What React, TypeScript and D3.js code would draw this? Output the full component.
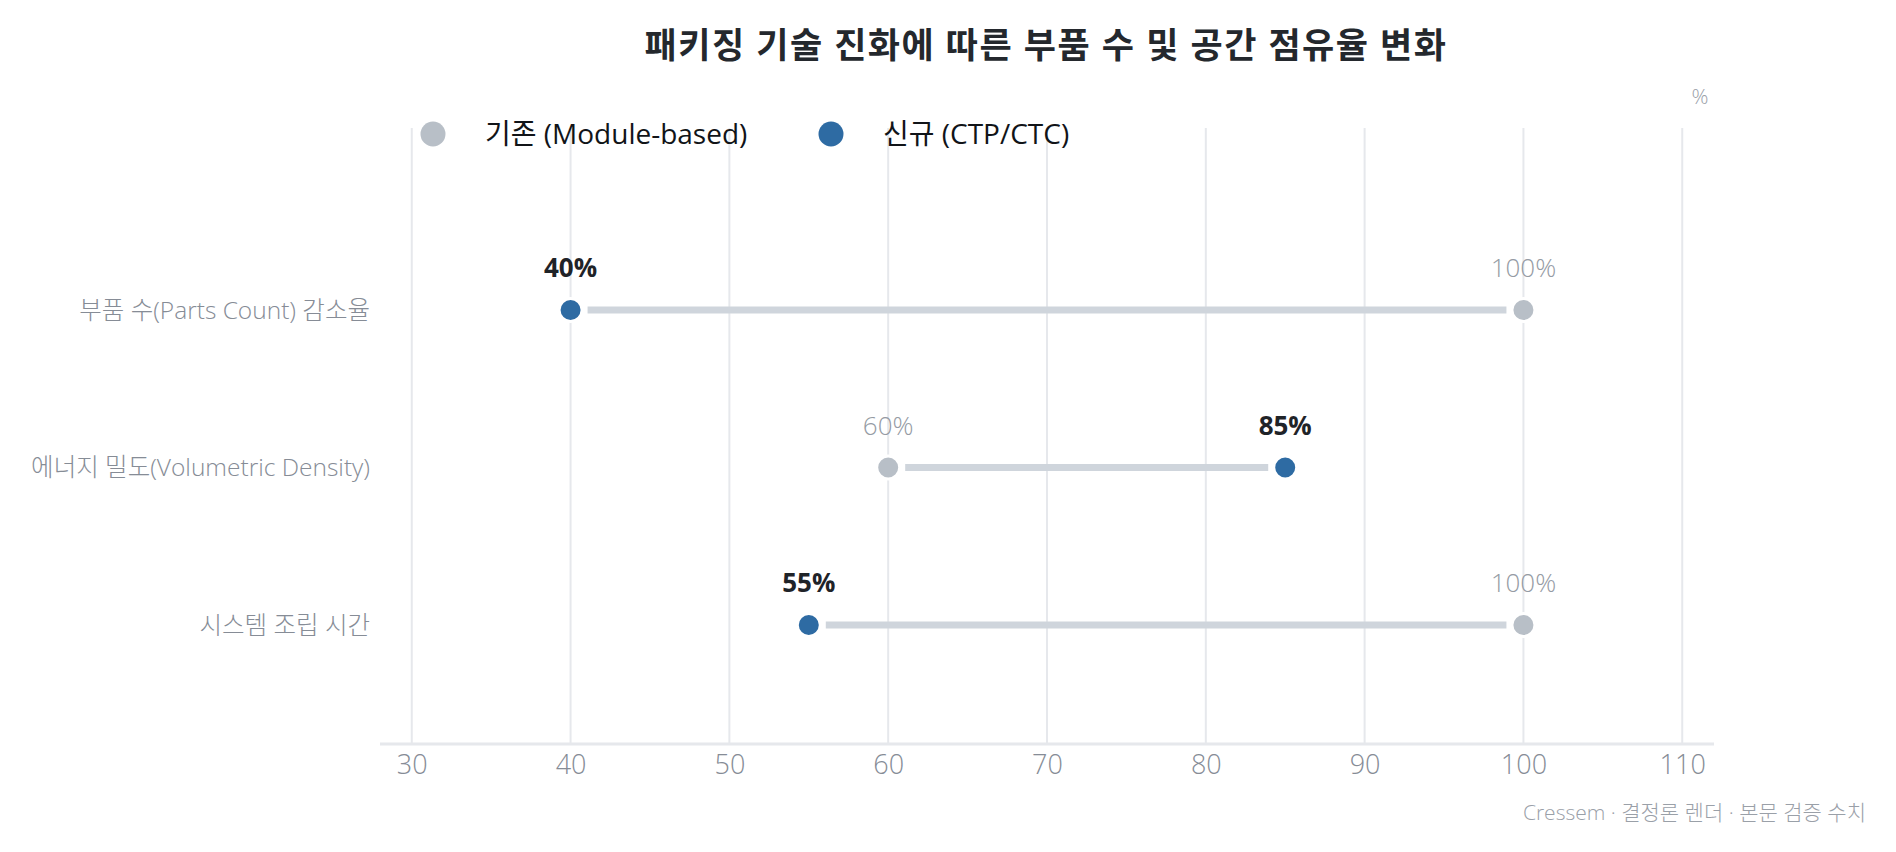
import React, { useEffect, useRef } from 'react';
import * as d3 from 'd3';

const categories = [
  '부품 수(Parts Count) 감소율',
  '에너지 밀도(Volumetric Density)',
  '시스템 조립 시간'
];
const legacyValues = [100, 60, 100];
const newValues = [40, 85, 55];
const xTicks = [30, 40, 50, 60, 70, 80, 90, 100, 110];
const seriesNames = ['기존 (Module-based)', '신규 (CTP/CTC)'];

const FONT = '"Open Sans", "Noto Sans CJK KR", sans-serif';
const GREY_DOT = '#b8bfc7';
const BLUE_DOT = '#2e6ba3';

export default function App() {
  const svgRef = useRef<SVGSVGElement>(null);

  useEffect(() => {
    document.body.style.margin = '0';
    if (!svgRef.current) return;

    const width = 1896;
    const height = 852;

    const svg = d3.select(svgRef.current);
    svg.selectAll('*').remove();
    svg.attr('width', width).attr('height', height).style('font-family', FONT);

    const x = d3.scaleLinear().domain([28, 112]).range([380, 1714]);
    const y = d3.scalePoint<string>().domain(categories).range([310, 625]);
    const gridTop = 128;
    const axisY = 744;

    // gridlines
    svg.append('g')
      .selectAll('line')
      .data(xTicks)
      .enter()
      .append('line')
      .attr('x1', d => x(d))
      .attr('x2', d => x(d))
      .attr('y1', gridTop)
      .attr('y2', axisY)
      .attr('stroke', '#e6e8ec')
      .attr('stroke-width', 2);

    // bottom axis
    const axis = svg.append('g')
      .attr('transform', `translate(0,${axisY})`)
      .call(d3.axisBottom(x).tickValues(xTicks).tickSize(0).tickPadding(11));
    axis.select('.domain')
      .attr('d', `M${x.range()[0]},0H${x.range()[1]}`)
      .attr('stroke', '#e6e8ec')
      .attr('stroke-width', 3);
    axis.selectAll('text')
      .attr('fill', '#868c96')
      .style('font-size', '27px')
      .style('font-weight', 300)
      .style('font-family', FONT);

    // title
    svg.append('text')
      .attr('x', 1046)
      .attr('y', 58)
      .attr('text-anchor', 'middle')
      .attr('fill', '#24282d')
      .style('font-size', '35px')
      .style('font-weight', 700)
      .style('letter-spacing', '1.5px')
      .text('패키징 기술 진화에 따른 부품 수 및 공간 점유율 변화');

    // unit
    svg.append('text')
      .attr('x', 1700)
      .attr('y', 104)
      .attr('text-anchor', 'middle')
      .attr('fill', '#9aa0a8')
      .style('font-size', '21px')
      .style('font-weight', 300)
      .text('%');

    // legend
    const legendX = [433, 831];
    const legendColors = [GREY_DOT, BLUE_DOT];
    seriesNames.forEach((name, i) => {
      svg.append('circle')
        .attr('cx', legendX[i])
        .attr('cy', 134)
        .attr('r', 12.5)
        .attr('fill', legendColors[i]);
      svg.append('text')
        .attr('x', legendX[i] + 52)
        .attr('y', 134)
        .attr('dy', '0.35em')
        .attr('fill', '#111418')
        .style('font-size', '28px')
        .text(name);
    });

    // category labels
    svg.append('g')
      .selectAll('text')
      .data(categories)
      .enter()
      .append('text')
      .attr('x', 370)
      .attr('y', d => y(d)!)
      .attr('dy', '0.35em')
      .attr('text-anchor', 'end')
      .attr('fill', '#868c96')
      .style('font-size', '24.5px')
      .style('font-weight', 300)
      .text(d => d);

    // connectors
    const inset = 17;
    svg.append('g')
      .selectAll('line')
      .data(categories)
      .enter()
      .append('line')
      .attr('x1', (_, i) => x(Math.min(legacyValues[i], newValues[i])) + inset)
      .attr('x2', (_, i) => x(Math.max(legacyValues[i], newValues[i])) - inset)
      .attr('y1', d => y(d)!)
      .attr('y2', d => y(d)!)
      .attr('stroke', '#cfd5dc')
      .attr('stroke-width', 7);

    // dots + value labels
    const series = [
      { values: legacyValues, color: GREY_DOT, labelColor: '#959ba4', weight: 300 },
      { values: newValues, color: BLUE_DOT, labelColor: '#1f2328', weight: 700 }
    ];
    series.forEach(s => {
      const g = svg.append('g');
      g.selectAll('circle')
        .data(categories)
        .enter()
        .append('circle')
        .attr('cx', (_, i) => x(s.values[i]))
        .attr('cy', d => y(d)!)
        .attr('r', 11.5)
        .attr('fill', s.color)
        .attr('stroke', '#ffffff')
        .attr('stroke-width', 3);
      g.selectAll('text')
        .data(categories)
        .enter()
        .append('text')
        .attr('x', (_, i) => x(s.values[i]))
        .attr('y', d => y(d)! - 42)
        .attr('dy', '0.35em')
        .attr('text-anchor', 'middle')
        .attr('fill', s.labelColor)
        .style('font-size', '26px')
        .style('font-weight', s.weight)
        .text((_, i) => `${s.values[i]}%`);
    });

    // footer
    svg.append('text')
      .attr('x', 1866)
      .attr('y', 813)
      .attr('dy', '0.35em')
      .attr('text-anchor', 'end')
      .attr('fill', '#9aa0a8')
      .style('font-size', '21px')
      .style('font-weight', 300)
      .text('Cressem · 결정론 렌더 · 본문 검증 수치');
  }, []);

  return <svg ref={svgRef} style={{ display: 'block' }}></svg>;
}
